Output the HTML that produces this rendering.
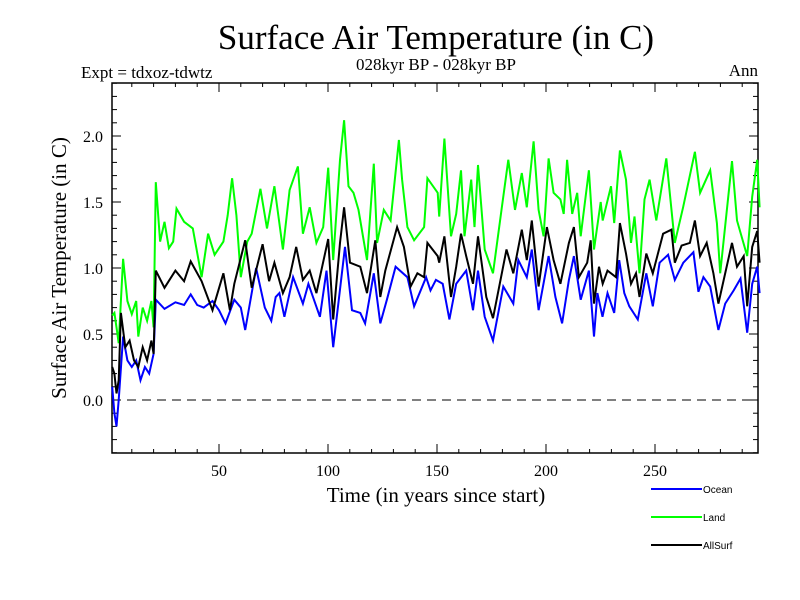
<!DOCTYPE html>
<html><head><meta charset="utf-8"><style>
body{margin:0;background:#fff;}
svg{display:block;font-family:"Liberation Serif",serif;}
</style></head><body>
<svg id="chart" width="800" height="600">
<text x="436" y="49" font-size="35" text-anchor="middle">Surface Air Temperature (in C)</text>
<text x="436" y="70" font-size="17" text-anchor="middle">028kyr BP - 028kyr BP</text>
<text x="81" y="78" font-size="17">Expt = tdxoz-tdwtz</text>
<text x="758" y="76" font-size="17" text-anchor="end">Ann</text>
<text x="436" y="502" font-size="21" text-anchor="middle">Time (in years since start)</text>
<text transform="translate(66,268) rotate(-90)" font-size="21" text-anchor="middle">Surface Air Temperature (in C)</text>
<g id="axes"></g>
<g id="series"></g>
<g id="legend"></g>
</svg>
<script>
const xTicks=[50,100,150,200,250];
const yTicks=[0.0,0.5,1.0,1.5,2.0];
const yTickLabels=["0.0","0.5","1.0","1.5","2.0"];
const oceanYears=[1,2,3,4,6,8,10,12,14,16,18,20,21,25,30,34,37,40,43,47,50,53,57,60,62,67,71,74,76,77.7,80,84,88.5,91,96.3,99.3,102.4,107.8,111,114.8,117,121,124,127,131,136.4,139.5,145,147,149.5,152.6,155.7,158.8,163.4,166.5,168.8,171.9,175.7,180.4,185,187.3,191.2,193.5,196.6,201.2,204.3,207.4,210.5,212.8,215.9,219.7,222,223.6,225.9,228.2,231.3,233.6,235.9,238.2,242.1,246,249,252.1,256,259.1,263,267.6,269.9,272.2,275.3,279.1,282.2,286.1,289.2,292.3,294.6,296.9,298];
const oceanVals=[0.1,-0.1,-0.2,0.0,0.48,0.3,0.25,0.3,0.15,0.25,0.2,0.35,0.76,0.69,0.74,0.72,0.8,0.72,0.7,0.75,0.68,0.58,0.76,0.7,0.53,1.0,0.7,0.6,0.78,0.81,0.63,0.93,0.73,0.88,0.63,0.98,0.40,1.16,0.68,0.66,0.58,0.96,0.58,0.76,1.01,0.93,0.71,0.93,0.83,0.91,0.88,0.61,0.88,0.98,0.68,0.98,0.63,0.45,0.86,0.73,1.06,0.93,1.14,0.68,1.09,0.78,0.58,0.91,1.09,0.76,0.98,0.48,0.81,0.63,0.81,0.66,1.06,0.81,0.71,0.61,0.96,0.71,1.04,1.1,0.91,1.04,1.12,0.82,0.93,0.86,0.53,0.73,0.83,0.92,0.51,0.88,1.01,0.81];
const landYears=[1,2,3,4,6,8,10,12,13,15,17,19,20,21,23,25,27,29,30.5,34,38,42,45,48,52,54,56,58,60,63,65,69,72,75.4,79.3,82.4,86.2,88.5,91.6,94.7,97.8,100.1,102.4,105.5,107.4,109.4,111.7,114,117.9,121,122.5,125.6,128.7,132.5,134,136.4,139.5,144.1,145.6,150.3,151,153.4,156.4,158.8,161,162.6,165.7,167.2,168.8,171.9,175.7,179.6,182.7,185.8,188.9,191.2,194.3,196.6,198.9,201.2,203.5,206.6,208.1,209.7,212,214.3,215.9,219.7,222,225.1,226,229.8,231.3,233.9,236.7,239,240.6,242.9,245.2,247.5,250.6,255.2,259.1,262.9,268.3,270.7,275.3,278.4,279.9,285.3,287.6,292.3,294.6,296.9,298];
const landVals=[0.64,0.66,0.55,0.43,1.07,0.75,0.65,0.75,0.48,0.7,0.6,0.75,0.55,1.65,1.2,1.35,1.15,1.2,1.45,1.35,1.3,0.93,1.26,1.1,1.2,1.4,1.68,1.4,0.93,1.2,1.26,1.6,1.3,1.62,1.14,1.59,1.77,1.26,1.46,1.19,1.31,1.76,1.06,1.82,2.12,1.62,1.57,1.44,1.06,1.79,1.19,1.44,1.36,1.97,1.67,1.31,1.21,1.31,1.68,1.57,1.39,1.98,1.24,1.41,1.74,1.24,1.67,1.31,1.78,1.14,0.96,1.44,1.82,1.44,1.72,1.46,1.96,1.44,1.24,1.83,1.57,1.52,1.41,1.82,1.41,1.57,1.24,1.74,1.14,1.5,1.36,1.62,1.34,1.89,1.67,1.19,1.39,0.96,1.52,1.67,1.36,1.83,1.19,1.46,1.88,1.57,1.74,1.34,0.96,1.81,1.36,1.09,1.54,1.82,1.46];
const allYears=[1,2,3,4,5,7,9,11,13,15,17,19,20,21,25,30,34,37,42,47,52,55,57,62,65,70,73,75.4,79.3,82.4,85.4,88.5,91.6,94.7,100.1,102.4,105.5,107.4,110.1,114.8,117.9,121.7,124,126.3,131.7,134.8,137.9,141,144.1,145.6,150.3,151,153.4,156.4,158.8,161,163.4,166.5,168.8,172.6,175.7,181.9,185,188.9,191.2,193.5,196.6,200.4,203.5,206.6,210.5,212.8,215.1,218.9,220.5,222,224.3,226,228.2,232.1,233.9,236.7,239,241.3,242.9,246,249,253.7,257.5,259.1,262.2,266,268.3,270.7,273.7,276.8,279.1,285.3,287.6,290.7,292.3,294.6,296.9,298];
const allVals=[0.25,0.2,0.05,0.15,0.66,0.4,0.45,0.3,0.25,0.4,0.3,0.45,0.35,0.98,0.85,0.98,0.9,1.05,0.9,0.68,0.96,0.68,0.88,1.21,0.85,1.18,0.9,1.04,0.81,0.93,1.16,0.91,0.98,0.81,1.22,0.61,1.19,1.46,1.04,1.01,0.81,1.21,0.78,0.98,1.31,1.16,0.86,0.96,0.93,1.19,1.09,1.04,1.24,0.78,1.01,1.26,1.09,0.88,1.24,0.78,0.62,1.14,0.96,1.29,1.06,1.36,0.86,1.31,1.06,0.88,1.19,1.31,0.93,1.04,1.21,0.73,1.01,0.88,0.98,0.93,1.34,1.11,0.88,0.96,0.78,1.11,0.96,1.26,1.29,1.04,1.17,1.19,1.36,1.09,1.19,0.96,0.73,1.19,1.01,1.09,0.71,1.16,1.28,1.04];
const legendNames=["Ocean","Land","AllSurf"];

const L=112,R=758,T=83,B=453;
function xs(y){return 110+2.18*y;}
function ys(v){return 400-132*v;}
const NS="http://www.w3.org/2000/svg";
function mk(tag,attrs,parent){const e=document.createElementNS(NS,tag);for(const k in attrs)e.setAttribute(k,attrs[k]);parent.appendChild(e);return e;}
const axes=document.getElementById('axes');
// dashed zero line
const zl=mk('line',{x1:L,x2:R,y1:ys(0),y2:ys(0),stroke:'#000','stroke-width':1,'stroke-dasharray':'9,6'},axes);


// x ticks
for(let yr=10;yr<=290;yr+=10){
  const major=xTicks.includes(yr);
  const len=major?9:4;
  const t1=mk('line',{x1:xs(yr),x2:xs(yr),y1:B,y2:B-len,stroke:'#000','stroke-width':1},axes);
  
  
  const t2=mk('line',{x1:xs(yr),x2:xs(yr),y1:T,y2:T+len,stroke:'#000','stroke-width':1},axes);
  
  
}
xTicks.forEach(v=>{
  const t=mk('text',{x:xs(v),y:B+23,'font-size':16,'text-anchor':'middle'},axes);
  t.textContent=String(v);
  
  
});
// y ticks
for(let i=-4;i<=24;i++){
  const v=i/10;const yy=ys(v);
  if(yy<T||yy>B)continue;
  const major=i%5===0;const len=major?9:5;
  const a=mk('line',{x1:L,x2:L+len,y1:yy,y2:yy,stroke:'#000','stroke-width':1},axes);
  
  
  const b=mk('line',{x1:R,x2:R-len,y1:yy,y2:yy,stroke:'#000','stroke-width':1},axes);
  
  
}
yTicks.forEach((v,i)=>{
  const t=mk('text',{x:L-9,y:ys(v)+6,'font-size':16,'text-anchor':'end'},axes);
  t.textContent=yTickLabels[i];
  
  
});
const fr=mk('rect',{x:L,y:T,width:R-L,height:B-T,fill:'none',stroke:'#000','stroke-width':1.5},axes);


// series
const ser=document.getElementById('series');
function draw(years,vals,color,name){
  const pts=years.map((y,i)=>xs(y).toFixed(1)+','+ys(vals[i]).toFixed(1)).join(' ');
  const p=mk('polyline',{points:pts,fill:'none',stroke:color,'stroke-width':2,'stroke-linejoin':'miter'},ser);
  
  
}
draw(oceanYears,oceanVals,'#0000ff','ocean-line');
draw(landYears,landVals,'#00ff00','land-line');
draw(allYears,allVals,'#000000','allsurf-line');
// legend
const lg=document.getElementById('legend');
const lcol=['#0000ff','#00ff00','#000000'];
legendNames.forEach((n,i)=>{
  const y=489+28*i;
  const l=mk('line',{x1:651,x2:702,y1:y,y2:y,stroke:lcol[i],'stroke-width':2},lg);
  
  
  const t=mk('text',{x:703,y:y+4,'font-size':10,'font-family':'Liberation Sans, sans-serif'},lg);
  t.textContent=n;
  
  
});
</script>
</body></html>
